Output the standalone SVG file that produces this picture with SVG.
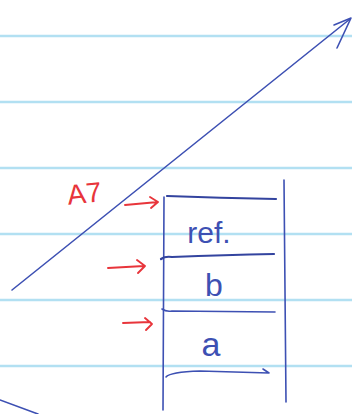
<svg xmlns="http://www.w3.org/2000/svg" width="352" height="414" viewBox="0 0 352 414">
<style>
.rule{stroke:#b2e0f2;stroke-width:2.5}
.pen{stroke:#3d50b3;stroke-width:1.6;fill:none;stroke-linecap:round;stroke-linejoin:round}
.thick{stroke:#33449f;stroke-width:2.2;fill:none;stroke-linecap:round}
.red{stroke:#e8353b;stroke-width:1.9;fill:none;stroke-linecap:round;stroke-linejoin:round}
.t{font-family:"Liberation Sans","DejaVu Sans",sans-serif;fill:#3d50b3}
</style>
<rect width="352" height="414" fill="#ffffff"/>
<g id="paper">
<line class="rule" x1="0" y1="36" x2="352" y2="36"/>
<line class="rule" x1="0" y1="102" x2="352" y2="102"/>
<line class="rule" x1="0" y1="168" x2="352" y2="168"/>
<line class="rule" x1="0" y1="234" x2="352" y2="234"/>
<line class="rule" x1="0" y1="300" x2="352" y2="300"/>
<line class="rule" x1="0" y1="366" x2="352" y2="366"/>
</g>
<g id="connectors">
<path class="pen" d="M12 290 L350 19"/>
<path class="pen" d="M334 25 L351 18 L337 48"/>
<path class="pen" d="M0 400 L38 414"/>
<path class="red" d="M125 205 L158 202 M150 197 L158 202 L151 208"/>
<path class="red" d="M108 268 L144 266 M137 260 L145 266 L138 273"/>
<path class="red" d="M123 323 L150 322 M145 318 L152 324 L146 330"/>
</g>
<g id="stack">
<path class="pen" d="M164 197 L163 410"/>
<path class="pen" d="M284 180 L286 402"/>
<path class="thick" d="M167 196 Q220 198 276 199"/>
<path class="thick" d="M161 259 Q165 256 172 257 Q225 255 274 254"/>
<path class="pen" d="M162 309 Q166 312 172 311 L275 312"/>
<path class="pen" d="M166 377 Q170 372 200 371 L269 373 L263 369"/>
<text class="t" x="209" y="243" font-size="30" text-anchor="middle">ref.</text>
<text class="t" x="214" y="296" font-size="32" text-anchor="middle">b</text>
<text class="t" x="211" y="356" font-size="34" text-anchor="middle">a</text>
</g>
<g id="label">
<text x="84" y="203" font-family="Liberation Sans,sans-serif" font-size="28" fill="#e8353b" text-anchor="middle" transform="rotate(-6 84 190)">A7</text>
</g>
</svg>
